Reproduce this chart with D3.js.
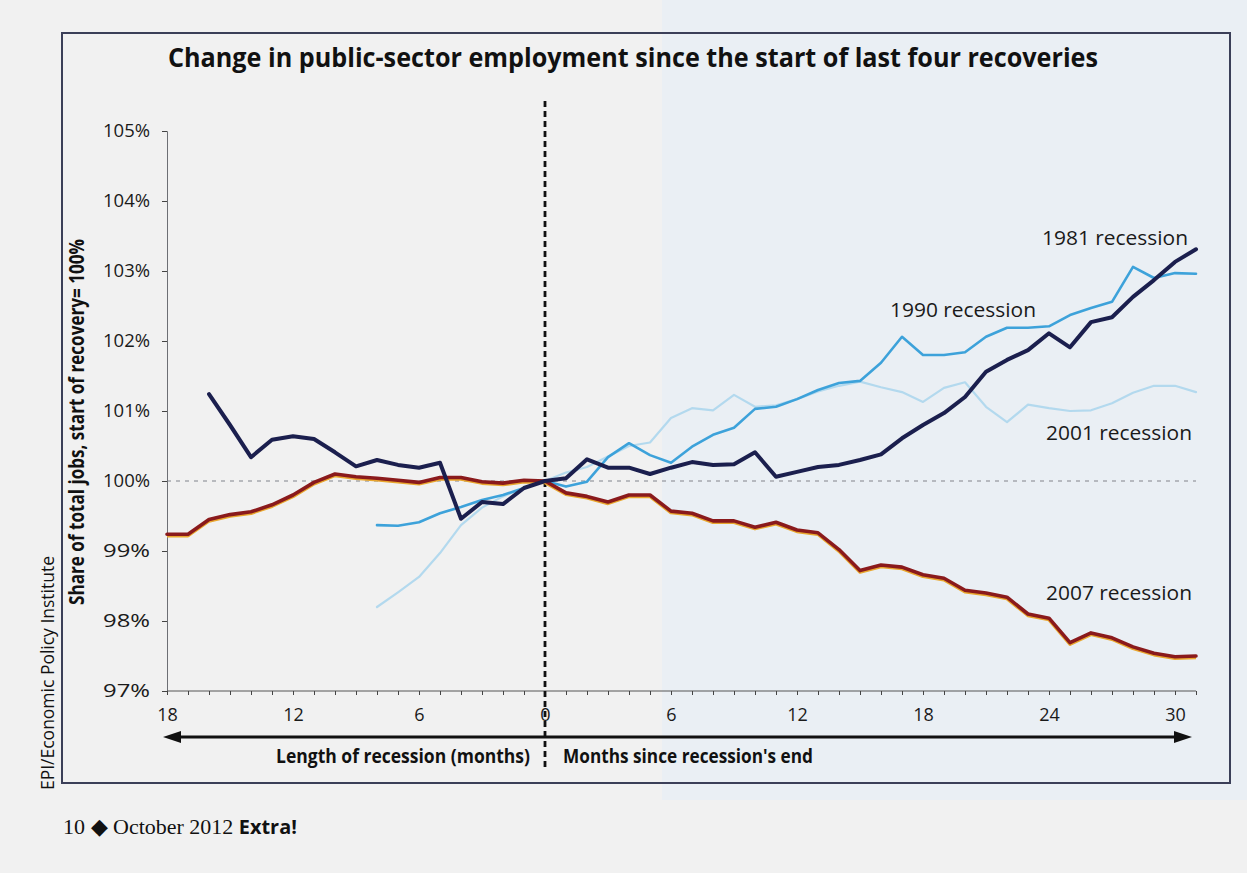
<!DOCTYPE html>
<html>
<head>
<meta charset="utf-8">
<script src="https://cdn.jsdelivr.net/npm/d3@7"></script>
<style>
  html, body { margin: 0; padding: 0; background: #f1f1f1; }
  svg { display: block; }
</style>
</head>
<body>
<svg id="chart" width="1247" height="873"></svg>
<script>
// ---------- DATA ----------
const title = "Change in public-sector employment since the start of last four recoveries";
const yTicks = [97, 98, 99, 100, 101, 102, 103, 104, 105];
const xTickLabels = [-18, -12, -6, 0, 6, 12, 18, 24, 30];

const start2007 = -18;
const rec2007 = [99.24, 99.24, 99.45, 99.52, 99.56, 99.66, 99.8, 99.98, 100.1, 100.06, 100.04, 100.01, 99.98, 100.05, 100.05, 99.99, 99.97, 100.01, 100,
  99.83, 99.78, 99.7, 99.8, 99.8, 99.57, 99.54, 99.43, 99.43, 99.34, 99.41, 99.3, 99.26, 99.02, 98.72, 98.8, 98.77, 98.66, 98.61, 98.44, 98.4, 98.34, 98.1, 98.04, 97.69, 97.83, 97.76, 97.63, 97.54, 97.49, 97.5];

const start1981 = -16;
const rec1981 = [101.24, 100.8, 100.34, 100.59, 100.64, 100.6, 100.41, 100.21, 100.3, 100.23, 100.19, 100.26, 99.46, 99.7, 99.67, 99.9, 100,
  100.04, 100.31, 100.19, 100.19, 100.1, 100.19, 100.27, 100.23, 100.24, 100.41, 100.06, 100.13, 100.2, 100.23, 100.3, 100.38, 100.61, 100.8, 100.97, 101.2, 101.56, 101.73, 101.87, 102.11, 101.91, 102.27, 102.34, 102.63, 102.87, 103.13, 103.31];

const start1990 = -8;
const rec1990 = [99.37, 99.36, 99.41, 99.54, 99.63, 99.73, 99.8, 99.9, 100,
  99.92, 99.99, 100.34, 100.54, 100.37, 100.26, 100.49, 100.66, 100.76, 101.03, 101.06, 101.17, 101.3, 101.4, 101.43, 101.69, 102.06, 101.8, 101.8, 101.84, 102.06, 102.19, 102.19, 102.21, 102.37, 102.47, 102.56, 103.06, 102.9, 102.97, 102.96];

const start2001 = -8;
const rec2001 = [98.2, 98.41, 98.63, 98.97, 99.37, 99.62, 99.78, 99.9, 100,
  100.12, 100.2, 100.35, 100.5, 100.55, 100.9, 101.04, 101.01, 101.23, 101.06, 101.08, 101.17, 101.28, 101.36, 101.42, 101.34, 101.27, 101.13, 101.33, 101.41, 101.06, 100.84, 101.09, 101.04, 101.0, 101.01, 101.11, 101.26, 101.36, 101.36, 101.27];

const seriesNames = ["2001 recession", "1990 recession", "2007 recession", "1981 recession"];

// ---------- LAYOUT ----------
const svg = d3.select("#chart");
const W = 1247, H = 873;

// page background (scanned page tones)
svg.append("rect").attr("x", 0).attr("y", 0).attr("width", W).attr("height", H).attr("fill", "#f1f1f1");
svg.append("rect").attr("x", 662).attr("y", 0).attr("width", W - 662).attr("height", 800).attr("fill", "#eaeff4");

// frame
svg.append("rect").attr("x", 62).attr("y", 33).attr("width", 1168).attr("height", 750)
  .attr("fill", "none").attr("stroke", "#3b3f58").attr("stroke-width", 2);

const x = d3.scaleLinear().domain([-18, 31]).range([167, 1196]);
const y = d3.scaleLinear().domain([97, 105]).range([691, 131]);

const sans = "'Open Sans', 'Noto Sans', sans-serif";

// title
svg.append("text").attr("x", 168).attr("y", 67)
  .attr("font-family", sans).attr("font-weight", 700).attr("font-size", 27)
  .attr("textLength", 930).attr("lengthAdjust", "spacingAndGlyphs")
  .attr("fill", "#111").text(title);

// y axis label
svg.append("text")
  .attr("transform", "translate(84,422) rotate(-90)")
  .attr("text-anchor", "middle")
  .attr("font-family", sans).attr("font-weight", 700).attr("font-size", 21)
  .attr("textLength", 366).attr("lengthAdjust", "spacingAndGlyphs")
  .attr("fill", "#111").text("Share of total jobs, start of recovery= 100%");

// source
svg.append("text")
  .attr("transform", "translate(54,673) rotate(-90)")
  .attr("text-anchor", "middle")
  .attr("font-family", sans).attr("font-size", 18)
  .attr("textLength", 234).attr("lengthAdjust", "spacingAndGlyphs")
  .attr("fill", "#111").text("EPI/Economic Policy Institute");

// 100% reference dashed line
svg.append("line")
  .attr("x1", x(-18)).attr("x2", x(31)).attr("y1", y(100)).attr("y2", y(100))
  .attr("stroke", "#a5a8ad").attr("stroke-width", 1.6).attr("stroke-dasharray", "4,5");

// axes
const yAxis = svg.append("g").attr("transform", `translate(${x(-18)},0)`)
  .call(d3.axisLeft(y).tickValues(yTicks).tickFormat(d => d + "%").tickSize(5).tickPadding(12));
yAxis.select(".domain").attr("stroke", "#6d6f74").attr("stroke-width", 1);
yAxis.selectAll(".tick line").attr("stroke", "#444");
yAxis.selectAll("text").attr("font-family", sans).attr("font-size", 18)
  .attr("textLength", 47).attr("lengthAdjust", "spacingAndGlyphs").attr("fill", "#1a1a1a");

const xAxis = svg.append("g").attr("transform", `translate(0,${y(97)})`)
  .call(d3.axisBottom(x).tickValues(d3.range(-18, 32)).tickSize(4)
    .tickFormat(d => xTickLabels.includes(d) ? Math.abs(d) : ""));
xAxis.select(".domain").attr("stroke", "#555").attr("stroke-width", 1).attr("d", `M${x(-18)},0H${x(31)}`);
xAxis.selectAll(".tick line").attr("stroke", "#444");
xAxis.selectAll("text").attr("y", 17).attr("font-family", sans).attr("font-size", 18).attr("fill", "#1a1a1a");

// vertical dashed line at recovery start
svg.append("line")
  .attr("x1", x(0)).attr("x2", x(0)).attr("y1", 101).attr("y2", 768)
  .attr("stroke", "#111").attr("stroke-width", 2.8).attr("stroke-dasharray", "6,4");

// double arrow
const ay = 737;
svg.append("line").attr("x1", x(-18) + 10).attr("x2", x(31) - 10).attr("y1", ay).attr("y2", ay)
  .attr("stroke", "#111").attr("stroke-width", 3);
svg.append("path").attr("d", `M${x(-18) - 4},${ay} L${x(-18) + 14},${ay - 6} L${x(-18) + 14},${ay + 6} Z`).attr("fill", "#111");
svg.append("path").attr("d", `M${x(31) - 4},${ay} L${x(31) - 22},${ay - 6} L${x(31) - 22},${ay + 6} Z`).attr("fill", "#111");
svg.append("text").attr("x", 530).attr("y", 763).attr("text-anchor", "end")
  .attr("font-family", sans).attr("font-weight", 700).attr("font-size", 20)
  .attr("textLength", 254).attr("lengthAdjust", "spacingAndGlyphs")
  .attr("fill", "#111").text("Length of recession (months)");
svg.append("text").attr("x", 563).attr("y", 763)
  .attr("font-family", sans).attr("font-weight", 700).attr("font-size", 20)
  .attr("textLength", 250).attr("lengthAdjust", "spacingAndGlyphs")
  .attr("fill", "#111").text("Months since recession's end");

// lines
const line = d3.line().x(d => x(d.m)).y(d => y(d.v));
const toPts = (start, vals) => vals.map((v, i) => ({ m: start + i, v }));

const series = [
  { name: seriesNames[0], pts: toPts(start2001, rec2001), color: "#b3d9ee", w: 2.2 },
  { name: seriesNames[1], pts: toPts(start1990, rec1990), color: "#3da2da", w: 2.6 },
  { name: seriesNames[2], pts: toPts(start2007, rec2007), color: "#8a1a1c", w: 3.6, under: "#e9a72e" },
  { name: seriesNames[3], pts: toPts(start1981, rec1981), color: "#1b1f4e", w: 4 }
];

series.forEach(s => {
  if (s.under) {
    svg.append("path").datum(s.pts).attr("d", line)
      .attr("transform", "translate(0,1.4)")
      .attr("fill", "none").attr("stroke", s.under).attr("stroke-width", s.w)
      .attr("stroke-linejoin", "round");
  }
  svg.append("path").datum(s.pts).attr("d", line)
    .attr("fill", "none").attr("stroke", s.color).attr("stroke-width", s.w)
    .attr("stroke-linejoin", "round").attr("stroke-linecap", "round");
});

// series labels
const labels = [
  { t: "1981 recession", x: 1188, y: 245, anchor: "end" },
  { t: "1990 recession", x: 890, y: 317, anchor: "start" },
  { t: "2001 recession", x: 1192, y: 440, anchor: "end" },
  { t: "2007 recession", x: 1192, y: 600, anchor: "end" }
];
labels.forEach(l => {
  svg.append("text").attr("x", l.x).attr("y", l.y).attr("text-anchor", l.anchor)
    .attr("font-family", sans).attr("font-size", 19.5)
    .attr("textLength", 146).attr("lengthAdjust", "spacingAndGlyphs")
    .attr("fill", "#1a1a1a").text(l.t);
});

// footer
const foot = svg.append("text").attr("x", 63).attr("y", 834)
  .attr("font-family", "'Liberation Serif', 'Times New Roman', serif").attr("font-size", 22).attr("fill", "#111");
foot.append("tspan").text("10 \u25C6 October 2012 ");
foot.append("tspan").attr("font-family", sans).attr("font-weight", 700).attr("font-size", 20)
  .attr("textLength", 58).attr("lengthAdjust", "spacingAndGlyphs").text("Extra!");
</script>
</body>
</html>
